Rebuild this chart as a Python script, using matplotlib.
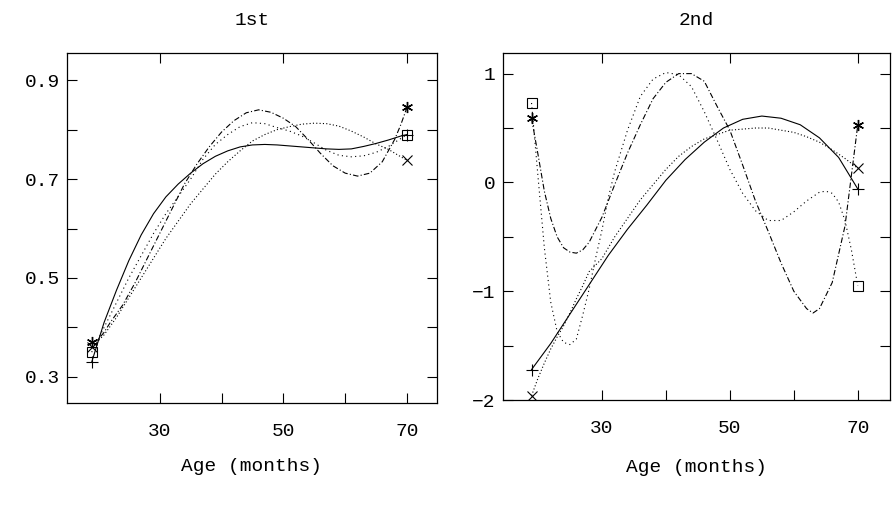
import matplotlib
matplotlib.use("Agg")
import matplotlib.pyplot as plt

plt.rcParams['font.family'] = ['Liberation Mono', 'DejaVu Sans Mono']

# ---- panel 1 (1st) ----
age_a = [19, 21, 23, 25, 27, 29, 31, 33, 35, 37, 39, 41, 43, 45, 47, 49, 51, 53, 55,
         57, 59, 61, 63, 65, 67, 69, 70]
solid_1 = [0.33, 0.41, 0.475, 0.535, 0.587, 0.63, 0.664, 0.69, 0.712, 0.731, 0.746, 0.757,
           0.765, 0.769, 0.770, 0.769, 0.767, 0.765, 0.763, 0.761, 0.760, 0.761, 0.766,
           0.772, 0.779, 0.787, 0.79]
square_1 = [0.35, 0.40, 0.45, 0.50, 0.545, 0.59, 0.63, 0.665, 0.70, 0.74, 0.77, 0.79,
            0.806, 0.814, 0.812, 0.804, 0.797, 0.787, 0.773, 0.758, 0.748, 0.745, 0.747,
            0.754, 0.766, 0.782, 0.79]
cross_1 = [0.36, 0.385, 0.42, 0.46, 0.50, 0.54, 0.58, 0.615, 0.65, 0.68, 0.71, 0.735,
           0.757, 0.777, 0.79, 0.80, 0.806, 0.811, 0.813, 0.812, 0.807, 0.797, 0.785,
           0.771, 0.76, 0.745, 0.738]
age_b = [19, 20, 21, 22, 24, 26, 28, 30, 32, 34, 36, 38, 40, 42, 44, 46, 48, 50, 52, 54,
         56, 58, 60, 62, 64, 66, 68, 69, 70]
star_1 = [0.37, 0.375, 0.39, 0.41, 0.445, 0.49, 0.54, 0.59, 0.64, 0.69, 0.73, 0.765,
          0.795, 0.818, 0.834, 0.84, 0.835, 0.823, 0.806, 0.78, 0.752, 0.727, 0.712,
          0.706, 0.712, 0.735, 0.78, 0.81, 0.845]

# ---- panel 2 (2nd) ----
age_c = [19, 22, 25, 28, 31, 34, 37, 40, 43, 46, 49, 52, 55, 58, 61, 64, 67, 70]
solid_2 = [-1.72, -1.48, -1.21, -0.94, -0.67, -0.43, -0.21, 0.02, 0.21, 0.37, 0.50, 0.58,
           0.61, 0.59, 0.53, 0.41, 0.23, -0.06]
age_d = [19, 20, 21, 22, 23, 24, 25, 26, 27, 28, 30, 32, 34, 36, 38, 40, 42, 44, 46, 48,
         50, 52, 54, 56, 58, 60, 62, 64, 66, 68, 70]
cross_2 = [-1.96, -1.80, -1.66, -1.53, -1.42, -1.32, -1.20, -1.07, -0.95, -0.82, -0.70,
           -0.50, -0.33, -0.16, -0.02, 0.12, 0.24, 0.33, 0.40, 0.44, 0.48, 0.49, 0.50,
           0.50, 0.48, 0.46, 0.42, 0.37, 0.30, 0.22, 0.13]
age_e = [19, 20, 21, 22, 23, 24, 25, 26, 27, 28, 30, 32, 34, 36, 38, 40, 42, 44, 46, 48,
         50, 52, 54, 56, 58, 60, 62, 63, 64, 66, 68, 70]
star_2 = [0.59, 0.26, -0.08, -0.33, -0.50, -0.60, -0.64, -0.65, -0.62, -0.55, -0.32,
          -0.02, 0.27, 0.53, 0.77, 0.92, 1.0, 1.0, 0.93, 0.70, 0.48, 0.16, -0.17, -0.45,
          -0.74, -1.0, -1.16, -1.20, -1.16, -0.92, -0.40, 0.53]
age_f = [19, 20, 21, 22, 23, 24, 25, 26, 27, 28, 29, 30, 31, 32, 34, 36, 38, 40, 42, 44,
         46, 48, 50, 52, 54, 56, 58, 60, 62, 64, 65, 66, 67, 68, 69, 70]
square_2 = [0.73, 0.06, -0.60, -1.10, -1.37, -1.47, -1.49, -1.44, -1.22, -0.98, -0.70,
            -0.44, -0.14, 0.10, 0.48, 0.79, 0.95, 1.01, 0.99, 0.88, 0.65, 0.39, 0.12,
            -0.10, -0.26, -0.35, -0.35, -0.27, -0.17, -0.09, -0.08, -0.10, -0.18, -0.35,
            -0.62, -0.95]

fig = plt.figure(figsize=(8.93, 5.09), dpi=100)
ax1 = fig.add_axes([0.075, 0.208, 0.414, 0.688])
ax2 = fig.add_axes([0.563, 0.214, 0.4334, 0.682])

lw = 0.8
ASTERISK = (6, 2, 0)
markers = {'+': ('+', 8), 'x': ('x', 7), 's': ('s', 7), '*': (ASTERISK, 8)}


def draw(ax, x, y, ls, mk):
    m, size = markers[mk]
    ax.plot(x, y, color='black', lw=lw, linestyle=ls)
    ax.plot([x[0], x[-1]], [y[0], y[-1]], linestyle='none', marker=m, color='black',
            ms=size, mew=1.0 if mk == '*' else 0.8, fillstyle='none')


draw(ax1, age_a, solid_1, '-', '+')
draw(ax1, age_a, square_1, (0, (1, 3)), 's')
draw(ax1, age_a, cross_1, (0, (1, 2)), 'x')
draw(ax1, age_b, star_1, (0, (5, 2, 1, 2)), '*')

draw(ax2, age_c, solid_2, '-', '+')
draw(ax2, age_d, cross_2, (0, (1, 2)), 'x')
draw(ax2, age_e, star_2, (0, (5, 2, 1, 2)), '*')
draw(ax2, age_f, square_2, (0, (1, 3)), 's')

ax1.set_xlim(15, 74.8)
ax1.set_ylim(0.247, 0.955)
ax1.set_yticks([0.3, 0.5, 0.7, 0.9])
ax1.set_yticks([0.4, 0.6, 0.8], minor=True)
ax1.set_yticklabels(['0.3', '0.5', '0.7', '0.9'])

ax2.set_xlim(14.5, 75)
ax2.set_ylim(-2, 1.19)
ax2.set_yticks([-2, -1, 0, 1])
ax2.set_yticks([-1.5, -0.5, 0.5], minor=True)

for ax, title, lp in [(ax1, '1st', 13), (ax2, '2nd', 16)]:
    ax.set_xticks([30, 50, 70])
    ax.set_xticks([40, 60], minor=True)
    ax.tick_params(which='both', direction='in', length=7, width=0.8,
                   top=True, right=True, labelsize=14)
    ax.tick_params(axis='x', pad=14)
    ax.tick_params(axis='y', pad=5)
    ax.tick_params(which='minor', top=False)
    ax.set_title(title, fontsize=14, pad=20)
    ax.set_xlabel('Age (months)', fontsize=14, labelpad=lp)
    for sp in ax.spines.values():
        sp.set_linewidth(0.9)

fig.savefig('out.png', dpi=100)
